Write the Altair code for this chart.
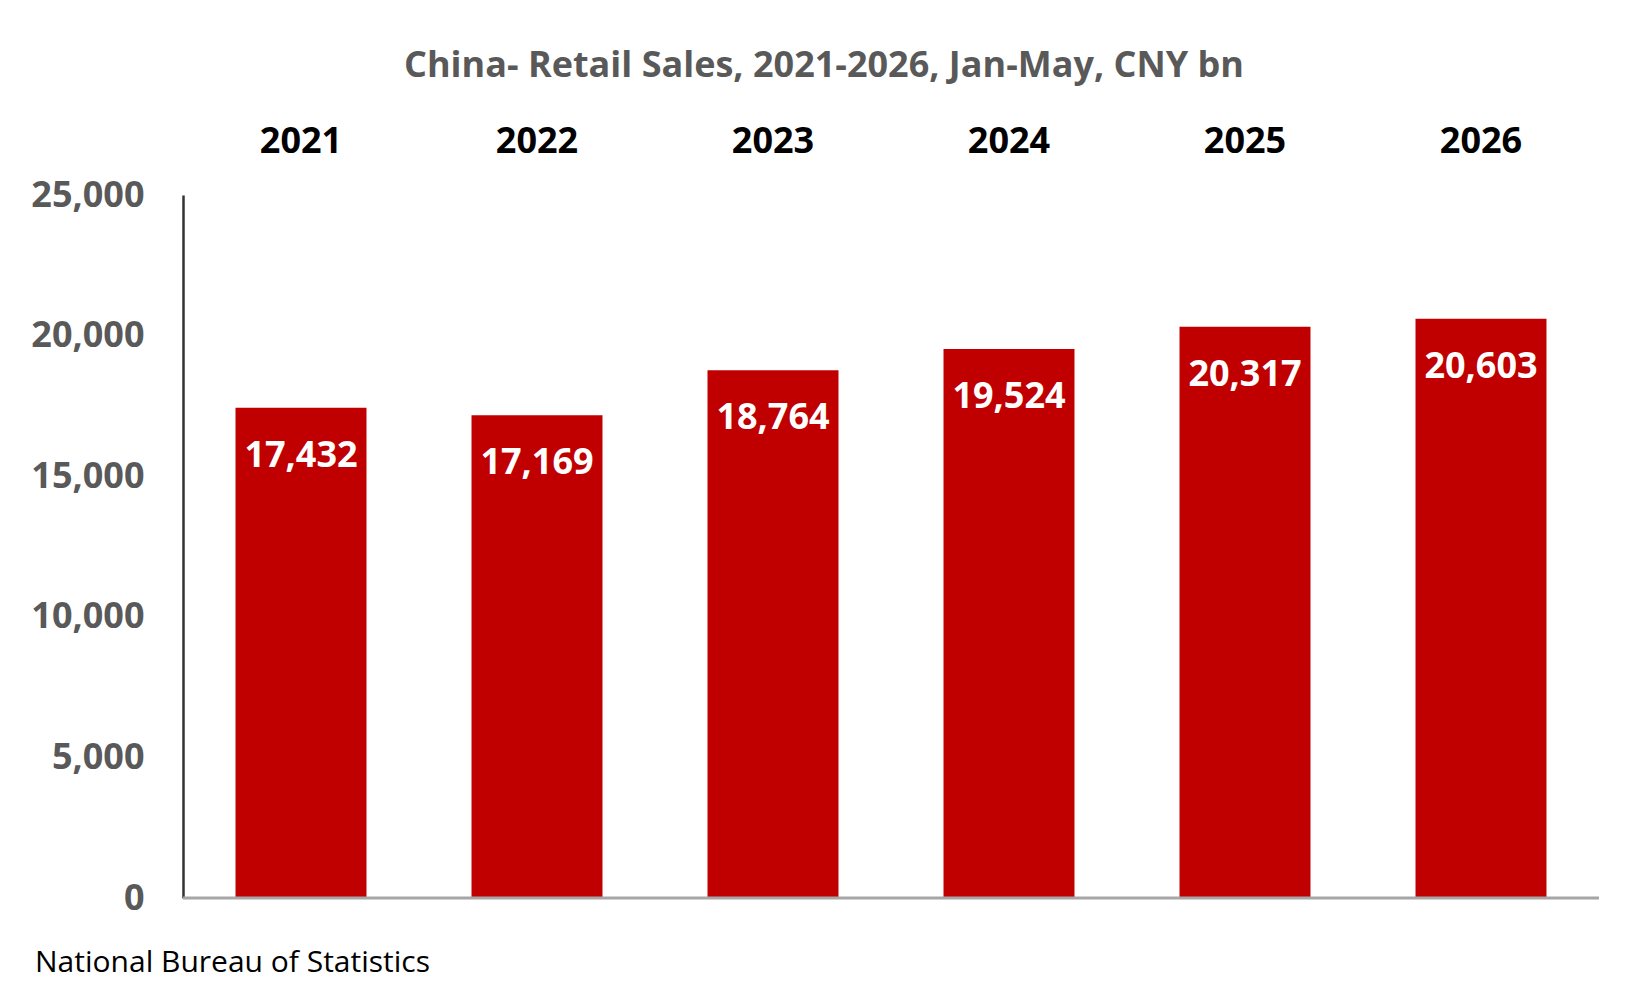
import altair as alt
import pandas as pd

YEARS = ["2021", "2022", "2023", "2024", "2025", "2026"]
SALES = [17432, 17169, 18764, 19524, 20317, 20603]
TITLE = "China- Retail Sales, 2021-2026, Jan-May, CNY bn"
SOURCE = ["National Bureau of Statistics"]
Y_TICKS = [0, 5000, 10000, 15000, 20000, 25000]

FONT = "Open Sans"
W, H = 1416, 703

df = pd.DataFrame({"year": YEARS, "sales": SALES})

x_enc = alt.X(
    "year:N",
    sort=YEARS,
    scale=alt.Scale(paddingInner=0.445, paddingOuter=0.2225),
    axis=alt.Axis(
        orient="top",
        title=None,
        domain=False,
        ticks=False,
        labelAngle=0,
        labelFont=FONT,
        labelFontSize=36,
        labelFontWeight="bold",
        labelColor="#000000",
        labelPadding=35,
    ),
)

y_enc = alt.Y(
    "sales:Q",
    scale=alt.Scale(domain=[0, 25000], nice=False),
    axis=alt.Axis(
        title=None,
        values=Y_TICKS,
        format=",.0f",
        grid=False,
        ticks=False,
        domain=True,
        domainColor="#333333",
        domainWidth=2.5,
        labelFont=FONT,
        labelFontSize=36,
        labelFontWeight="bold",
        labelColor="#595959",
        labelPadding=39,
    ),
)

base = alt.Chart(df)

bars = base.mark_bar(color="#C00000").encode(x=x_enc, y=y_enc)

labels = base.mark_text(
    font=FONT, fontSize=36, fontWeight="bold", color="#FFFFFF",
    baseline="middle", align="center", dy=48,
).encode(
    x=alt.X("year:N", sort=YEARS),
    y=alt.Y("sales:Q"),
    text=alt.Text("sales:Q", format=",.0f"),
)

baseline_rule = alt.Chart(pd.DataFrame({"z": [0]})).mark_rule(
    color="#A6A6A6", strokeWidth=3
).encode(y=alt.Y("z:Q"))

source = alt.Chart(pd.DataFrame({"src": SOURCE})).mark_text(
    font=FONT, fontSize=30, color="#000000", align="left", baseline="alphabetic"
).encode(text="src:N", x=alt.value(-148), y=alt.value(777))

chart = alt.layer(bars, baseline_rule, labels, source).properties(
    width=W,
    height=H,
    background="#FFFFFF",
    title=alt.TitleParams(
        TITLE,
        font=FONT,
        fontSize=36,
        fontWeight="bold",
        color="#595959",
        anchor="middle",
        baseline="alphabetic",
        offset=10,
        dx=-67,
    ),
    autosize=alt.AutoSizeParams(type="none"),
    padding={"left": 175, "top": 187, "right": 43, "bottom": 84},
).configure_view(stroke="transparent", strokeWidth=0)

chart.save("out.html", embed_options={"renderer": "svg", "actions": False})
